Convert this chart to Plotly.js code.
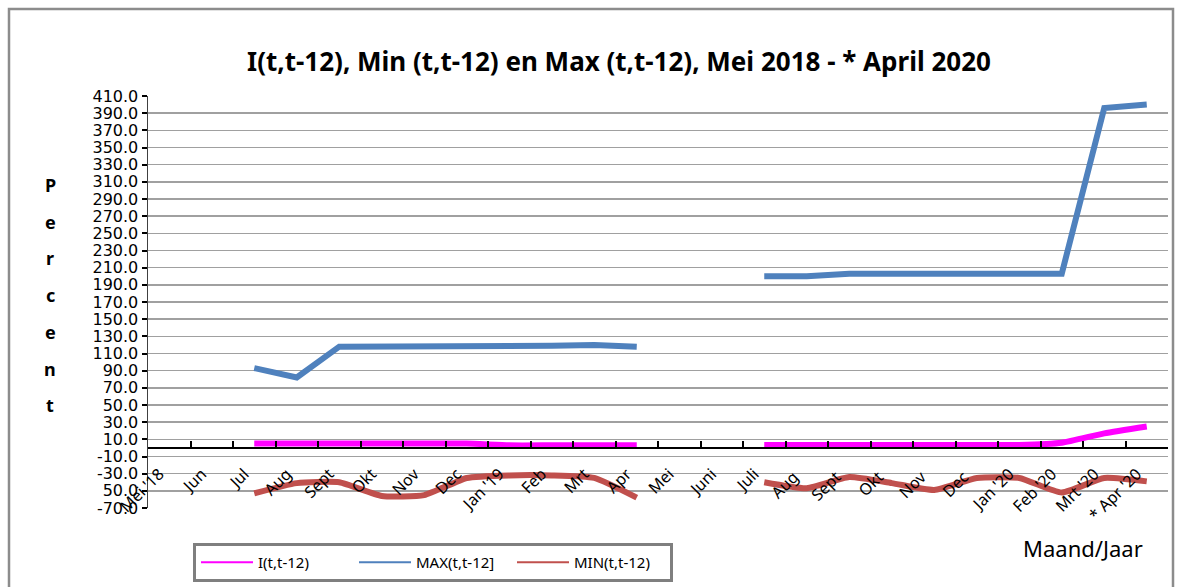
<!DOCTYPE html>
<html>
<head>
<meta charset="utf-8">
<script src="https://cdn.plot.ly/plotly-3.0.1.min.js"></script>
<style>
  html, body { margin: 0; padding: 0; background: #ffffff; }
  #chart { width: 1183px; height: 587px; }
</style>
</head>
<body>
<div id="chart"></div>
<script>
// Categories (duplicate month names made unique with trailing spaces)
const months = ["Mei '18", "Jun", "Jul", "Aug", "Sept", "Okt", "Nov", "Dec", "Jan '19", "Feb", "Mrt", "Apr",
                "Mei", "Juni", "Juli", "Aug ", "Sept ", "Okt ", "Nov ", "Dec ", "Jan '20", "Feb '20", "Mrt '20", "* Apr '20"];

// Series values (percent)
const iValues   = [null, null, 5, 5, 5, 5, 5, 5, 3, 3, 3, 3,
                   null, null, 3.5, 3.5, 3.5, 3.5, 3.5, 3.5, 3.5, 6, 17, 25];
const maxValues = [null, null, 93, 82, 118, 118, 118, 118, 118, 119, 120, 118,
                   null, null, 200, 200, 203, 203, 203, 203, 203, 203, 396, 400];
const minValues = [null, null, -53, -41, -40, -56, -55, -35, -32, -32, -35, -58,
                   null, null, -40, -47, -34, -41, -49, -35, -35, -52, -35, -39];

// Y tick values and labels
const yTickValues = [-70, -50, -30, -10, 10, 30, 50, 70, 90, 110, 130, 150, 170, 190, 210, 230, 250, 270, 290, 310, 330, 350, 370, 390, 410];
const yTickLabels = ["-70.0", "50.0", "-30.0", "-10.0", "10.0", "30.0", "50.0", "70.0", "90.0", "110.0", "130.0", "150.0", "170.0", "190.0", "210.0", "230.0", "250.0", "270.0", "290.0", "310.0", "330.0", "350.0", "370.0", "390.0", "410.0"];

const seriesNames = ["I(t,t-12)", "MAX(t,t-12]", "MIN(t,t-12)"];
const seriesColors = ["#ff00ff", "#4f81bd", "#c0504d"];
const seriesShapes = ["spline", "linear", "spline"];
const seriesData = [iValues, maxValues, minValues];

const titleText = "I(t,t-12), Min (t,t-12) en Max (t,t-12), Mei 2018 - * April 2020";
const yTitleLetters = ["P", "e", "r", "c", "e", "n", "t"];
const xTitleText = "Maand/Jaar";

const traces = [];
seriesData.forEach((vals, k) => {
  traces.push({
    type: "scatter", mode: "lines", x: months, y: vals,
    line: { color: seriesColors[k], width: 6, shape: seriesShapes[k], smoothing: 0.5 },
    connectgaps: false, showlegend: false, hoverinfo: "skip"
  });
});
// legend entries (thin lines like the original legend)
seriesData.forEach((vals, k) => {
  traces.push({
    type: "scatter", mode: "lines", x: [null], y: [null], name: seriesNames[k],
    line: { color: seriesColors[k], width: 2 }, showlegend: true, hoverinfo: "skip"
  });
});

// plot area geometry in pixels
const FW = 1183, FH = 587;
const L = 148, R = 15, T = 96, B = 79;
const W = FW - L - R, H = FH - T - B;
const yMin = -70, yMax = 410;
const px2x = p => (p - L) / W;
const py2y = p => (FH - B - p) / H;

const letterAnnotations = yTitleLetters.map((ch, i) => ({
  text: "<b>" + ch + "</b>",
  xref: "paper", yref: "paper", x: px2x(50), y: py2y(185 + i * 36.7),
  xanchor: "center", yanchor: "middle", showarrow: false,
  font: { family: "Noto Sans, sans-serif", size: 18, color: "#000000" }
}));

const layout = {
  width: FW, height: FH,
  margin: { l: L, r: R, t: T, b: B, autoexpand: false },
  paper_bgcolor: "#ffffff", plot_bgcolor: "#ffffff",
  font: { family: "Noto Sans, DejaVu Sans, sans-serif", color: "#000000" },
  title: {
    text: "<b>" + titleText + "</b>",
    font: { family: "Noto Sans, sans-serif", size: 26, color: "#000000" },
    x: 619 / FW, xref: "container", xanchor: "center",
    y: 1 - 62 / FH, yref: "container", yanchor: "middle"
  },
  showlegend: true,
  legend: {
    orientation: "h",
    xref: "container", yref: "container",
    x: 193 / FW, xanchor: "left", y: 1 - 543 / FH, yanchor: "top",
    bordercolor: "#7f7f7f", borderwidth: 3, bgcolor: "#ffffff",
    font: { family: "Noto Sans, sans-serif", size: 15, color: "#000000" },
    entrywidth: 91, entrywidthmode: "pixels", itemwidth: 52
  },
  xaxis: {
    type: "category", categoryorder: "array", categoryarray: months,
    range: [-0.5, months.length - 0.5],
    anchor: "free", position: (0 - yMin) / (yMax - yMin),
    showline: true, linecolor: "#000000", linewidth: 2.5,
    ticks: "inside", ticklen: 6, tickwidth: 2, tickcolor: "#000000",
    tickson: "boundaries",
    showgrid: false, zeroline: false,
    tickangle: -45, ticklabelstandoff: 9, ticklabelshift: -10,
    tickfont: { family: "Noto Sans, sans-serif", size: 16, color: "#000000" },
    automargin: false,
    fixedrange: true
  },
  yaxis: {
    range: [yMin, yMax],
    tickmode: "array", tickvals: yTickValues, ticktext: yTickLabels,
    showline: true, linecolor: "#404040", linewidth: 1.5,
    ticks: "outside", ticklen: 5, tickwidth: 2, tickcolor: "#000000",
    showgrid: true, gridcolor: "#a0a0a0", gridwidth: 1.5,
    zeroline: false,
    tickfont: { family: "DejaVu Sans, sans-serif", size: 16, color: "#000000" },
    automargin: false,
    fixedrange: true
  },
  annotations: letterAnnotations.concat([
    {
      text: xTitleText,
      xref: "paper", yref: "paper", x: px2x(1083), y: py2y(548),
      xanchor: "center", yanchor: "middle", showarrow: false,
      font: { family: "Noto Sans, sans-serif", size: 22, color: "#000000" }
    }
  ]),
  shapes: [
    {
      type: "rect", xref: "paper", yref: "paper",
      x0: px2x(9), x1: px2x(1173), y0: py2y(600), y1: py2y(9),
      line: { color: "#8c8c8c", width: 2.5 }, fillcolor: "rgba(0,0,0,0)", layer: "above"
    }
  ]
};

Plotly.newPlot("chart", traces, layout, { displayModeBar: false, staticPlot: true });
</script>
</body>
</html>
